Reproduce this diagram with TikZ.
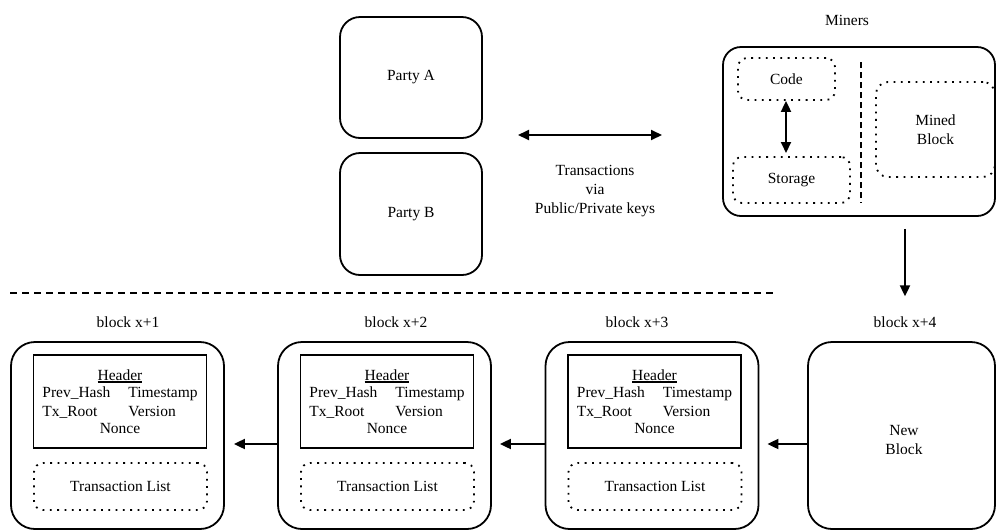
\documentclass[tikz,border=0pt]{standalone}
\usepackage{fontspec}
\setmainfont{Liberation Serif}
\usetikzlibrary{arrows.meta,calc}
\newcommand\thul[1]{\leavevmode\vtop{\hbox{#1}\kern0.6pt\hrule height 1.7pt}}
\begin{document}
\begin{tikzpicture}[x=1pt,y=-1pt,
  every node/.style={font=\fontsize{15.5}{19}\selectfont, inner sep=0pt},
  bigbox/.style={draw, line width=1.8pt, rounded corners=24pt},
  partybox/.style={draw, line width=1.8pt, rounded corners=20pt},
  hdr/.style={draw, line width=1.8pt, align=center},
  dotbox/.style={draw, line width=1.8pt, dash pattern=on 1.8pt off 5.5pt, rounded corners=9pt, align=center},
  lbl/.style={align=center},
  arr/.style={line width=1.9pt, -{Triangle[length=11pt,width=10pt]}},
  darr/.style={line width=1.9pt, {Triangle[length=11pt,width=10pt]}-{Triangle[length=11pt,width=10pt]}},
  sepline/.style={line width=1.5pt, dash pattern=on 7pt off 5pt}
]
\useasboundingbox (0,0) rectangle (996,531);
\clip (0,0) rectangle (996,531);

% --- top: parties ---
\node[partybox, minimum width=142pt, minimum height=121pt] (pA) at (411,77.5) {Party A};
\node[partybox, minimum width=142pt, minimum height=122pt] (pB) at (411,214) {Party B};
\coordinate (tl) at (518,135);
\coordinate (tr) at (662,135);
\draw[darr] (tl) -- (tr);
\node[lbl] (tx) at (595,191) {Transactions\\via\\Public/Private keys};

% --- miners ---
\node (mlbl) at (847,20) {Miners};
\node[bigbox, rounded corners=18pt, minimum width=272pt, minimum height=169pt] (miners) at (859,131.5) {};
\node[dotbox, minimum width=97pt, minimum height=42pt] (code) at (786.5,79) {Code};
\node[dotbox, minimum width=117pt, minimum height=46pt] (storage) at (791.5,180) {Storage};
\node[dotbox, rounded corners=12pt, minimum width=119pt, minimum height=95pt] (mined) at (935.5,129.5) {Mined\\Block};
\draw[darr] (code.south -| 786,0) -- (786,153);
\coordinate (vd1) at (861,62);
\coordinate (vd2) at (861,203);
\draw[line width=1.5pt, dash pattern=on 6pt off 4pt] (vd1) -- (vd2);

% --- separator ---
\coordinate (s1) at (10,293);
\coordinate (s2) at (775,293);
\draw[sepline] (s1) -- (s2);

% --- block labels ---
\node (l1) at (128,322) {block x+1};
\node (l2) at (396,322) {block x+2};
\node (l3) at (637,322) {block x+3};
\node (l4) at (905,322) {block x+4};
\draw[arr, shorten <=12pt, shorten >=20pt] (miners.south -| l4.north) -- (l4.north);

% --- blocks ---
\foreach \n/\cx in {1/117.5, 2/384.5, 3/652} {
  \node[bigbox, minimum width=213pt, minimum height=187pt] (b\n) at (\cx,435.5) {};
  \node[hdr, minimum width=173pt, minimum height=93pt] (h\n) at ($(\cx,401.5)+(2.5,0)$)
    {\thul{Header}\\\begin{tabular}{@{}l@{\hspace{18pt}}l@{}}Prev\_Hash & Timestamp\\Tx\_Root & Version\end{tabular}\\Nonce};
  \node[dotbox, minimum width=173pt, minimum height=47pt] (t\n) at ($(\cx,486.5)+(3,0)$) {Transaction List};
}
\node[bigbox, minimum width=187pt, minimum height=187pt] (b4) at (901.5,435.5) {};
\node[align=center] (nb) at (904,440) {New\\Block};

\draw[arr, shorten >=8pt] ([yshift=-8.5pt]b4.west) -- ([yshift=-8.5pt]b3.east);
\draw[arr, shorten >=8pt] ([yshift=-8.5pt]b3.west) -- ([yshift=-8.5pt]b2.east);
\draw[arr, shorten >=9pt] ([yshift=-8.5pt]b2.west) -- ([yshift=-8.5pt]b1.east);
\end{tikzpicture}
\end{document}
